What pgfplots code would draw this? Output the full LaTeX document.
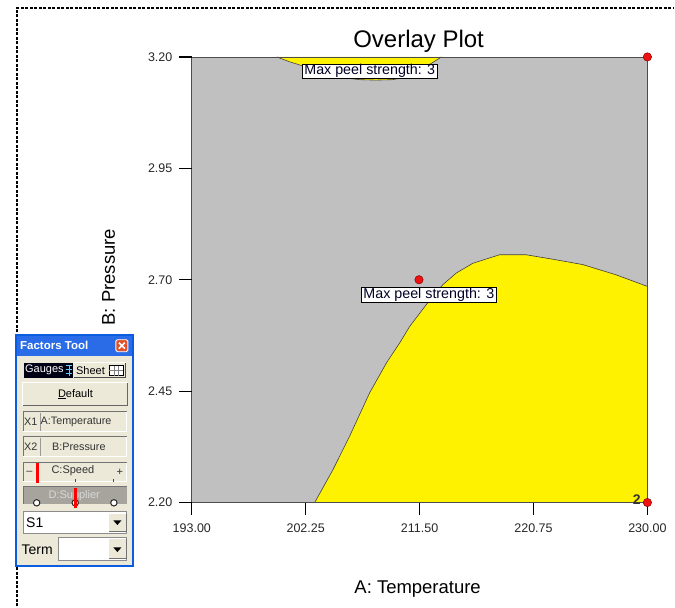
\documentclass[border=0pt]{standalone}
\usepackage{pgfplots}
\pgfplotsset{compat=1.18}
\usepackage{fontspec}
\setmainfont{Liberation Sans}
\definecolor{silv}{HTML}{C0C0C0}
\definecolor{xpbg}{HTML}{ECE9D8}
\definecolor{xpblue}{HTML}{0A5CE0}
\definecolor{xptitle}{HTML}{2A6CE8}
\definecolor{dotred}{HTML}{EE1111}
\definecolor{supgray}{HTML}{A6A49C}
\newcommand{\fs}[1]{\fontsize{#1bp}{1.2\dimexpr#1bp\relax}\selectfont}
\begin{document}
\begin{tikzpicture}
\begin{scope}[x=1bp,y=-1bp,shift={(-192bp,503bp)}]
\useasboundingbox (0,0) rectangle (675,607);
\end{scope}
\begin{axis}[
  at={(0,0)}, anchor=south west,
  width=456bp, height=446bp, scale only axis,
  xmin=193, xmax=230, ymin=2.2, ymax=3.2,
  axis lines*=left,
  xtick={193,202.25,211.5,220.75,230},
  ytick={2.2,2.45,2.7,2.95,3.2},
  tick align=outside,
  major tick length=12bp,
  every tick/.style={black, line width=1bp},
  axis line style={black!70, line width=0.8bp, -},
  clip=false,
  /pgf/number format/assume math mode=true,
  /pgf/number format/.cd, fixed, fixed zerofill, precision=2, 1000 sep={},
  /pgfplots/.cd,
  xticklabel style={font=\fs{12.5}, text=black!85, yshift=-6bp},
  yticklabel style={font=\fs{12.5}, text=black!85, xshift=-4bp},
]
\fill[silv] (rel axis cs:0,0) rectangle (rel axis cs:1,1);
% lower yellow region
\addplot[fill=yellow, draw=none] coordinates {
 (202.98,2.2) (204.47,2.274) (205.82,2.349) (207.44,2.446) (208.80,2.513)
 (209.88,2.558) (210.69,2.595) (212.04,2.644) (213.39,2.689) (214.48,2.715)
 (215.83,2.737) (217.99,2.756) (220.16,2.756) (222.32,2.746) (224.75,2.734)
 (227.46,2.711) (230,2.685) (230,2.2)} -- cycle;
\addplot[black!75, line width=0.6bp] coordinates {
 (202.98,2.2) (204.47,2.274) (205.82,2.349) (207.44,2.446) (208.80,2.513)
 (209.88,2.558) (210.69,2.595) (212.04,2.644) (213.39,2.689) (214.48,2.715)
 (215.83,2.737) (217.99,2.756) (220.16,2.756) (222.32,2.746) (224.75,2.734)
 (227.46,2.711) (230,2.685)};
% upper yellow region
\addplot[fill=yellow, draw=none] coordinates {
 (199.90,3.2) (200.95,3.189) (201.76,3.182) (202.98,3.170) (204.20,3.160)
 (205.41,3.153) (206.63,3.149) (207.93,3.148) (209.31,3.149) (210.28,3.154)
 (211.09,3.163) (211.90,3.177) (212.47,3.186) (213.29,3.2)} -- cycle;
\addplot[black!75, line width=0.6bp] coordinates {
 (199.90,3.2) (200.95,3.189) (201.76,3.182) (202.98,3.170) (204.20,3.160)
 (205.41,3.153) (206.63,3.149) (207.93,3.148) (209.31,3.149) (210.28,3.154)
 (211.09,3.163) (211.90,3.177) (212.47,3.186) (213.29,3.2)};
\draw[black!70, line width=0.8bp] (rel axis cs:0,0) rectangle (rel axis cs:1,1);
\end{axis}
\begin{scope}[x=1bp,y=-1bp,shift={(-192bp,503bp)}]
% tick marks (axis furniture) as thin filled bars
\foreach \tx in {192,306,420,534,648} {\fill[black] (\tx-0.6,503) rectangle (\tx+0.6,515.5);}
\foreach \ty in {57,168.5,280,391.5,503} {\fill[black] (179.5,\ty-0.6) rectangle (192,\ty+0.6);}
\end{scope}
\begin{axis}[
  at={(0,0)}, anchor=south west,
  width=456bp, height=446bp, scale only axis,
  xmin=193, xmax=230, ymin=2.2, ymax=3.2,
  hide axis, clip=false,
]
% design points
\addplot[only marks, mark=*, mark size=4.2bp, mark options={fill=dotred, draw=red!55!black, line width=0.5bp}]
 coordinates {(230,3.2) (211.45,2.70) (230,2.2)};
\node[draw=black, fill=white, inner xsep=2bp, inner ysep=0.8bp, font=\fs{14.3}, text=black!85!blue]
 at (axis cs:207.45,3.168) {Max peel strength: 3};
\node[draw=black, fill=white, inner xsep=2bp, inner ysep=0.8bp, font=\fs{14.3}, text=black!85!blue]
 at (axis cs:212.25,2.666) {Max peel strength: 3};
\node[anchor=east, font=\bfseries\fs{14}, text=black!80, inner sep=1bp] at (axis cs:229.55,2.207) {2};
\end{axis}
\begin{scope}[x=1bp,y=-1bp,shift={(-192bp,503bp)}]
% title and axis labels
\node[anchor=base, font=\fs{24}] at (419,48) {Overlay Plot};
\node[anchor=base, font=\fs{18.5}] at (418,594) {A: Temperature};
\node[anchor=base, rotate=90, font=\fs{18.5}] at (115,277.5) {B: Pressure};
% dashed frame
\draw[black, line width=1.3bp, dash pattern=on 3bp off 1.5bp] (17,607) -- (17,8) -- (675,8);
% Factors Tool window
\fill[xpbg] (16,335) rectangle (133,567);
\fill[xptitle] (16,335) rectangle (133,356);
\draw[xpblue, line width=2bp] (16,335) rectangle (133,567);
\node[anchor=west, text=white, font=\bfseries\fs{11.5}, inner sep=0] at (20,346) {Factors Tool};
\draw[white, line width=0.8bp, fill={rgb,255:red,225;green,80;blue,40}, rounded corners=1.5bp] (116,340) rectangle (128,352);
\draw[white, line width=1.6bp] (119,343) -- (125,349) (125,343) -- (119,349);
% Gauges / Sheet
\fill[black!92!blue] (24,363) rectangle (73,378);
\node[anchor=west, text=white, font=\fs{11}, inner sep=0] at (25,370.5) {Gauges};
\draw[cyan!60, line width=0.6bp] (66,366) -- (72,366) (66,370) -- (72,370) (66,374) -- (72,374) (69,365) -- (69,376);
\draw[white, line width=0.8bp] (74,363) -- (126,363);
\draw[black!70, line width=0.8bp] (126,363) -- (126,378) -- (74,378);
\node[anchor=west, text=black, font=\fs{11}, inner sep=0] at (76,370.5) {Sheet};
\draw[black, line width=0.6bp, fill=white] (109,366) rectangle (123,376);
\draw[black!50, line width=0.4bp] (109,371) -- (123,371) (114,366) -- (114,376) (118.5,366) -- (118.5,376);
% Default button
\draw[white, line width=1bp] (23,406) -- (23,383) -- (128,383);
\draw[black!60, line width=1bp] (128,383) -- (128,406) -- (23,406);
\node[font=\fs{11}, inner sep=0] at (75.5,394.5) {\underline{D}efault};
% X1 / X2
\draw[black!55, line width=0.8bp] (23,432) -- (23,412) -- (127,412);
\draw[white, line width=0.8bp] (127,412) -- (127,432) -- (23,432);
\draw[black!40, line width=0.8bp] (40.7,413) -- (40.7,431);
\node[anchor=west, font=\fs{10.8}, text=black!80, inner sep=0] at (24,422) {X1};
\node[anchor=west, font=\fs{10.8}, text=black!80, inner sep=0] at (40.5,422) {A:Temperature};
\draw[black!55, line width=0.8bp] (23,457) -- (23,437) -- (127,437);
\draw[white, line width=0.8bp] (127,437) -- (127,457) -- (23,457);
\draw[black!40, line width=0.8bp] (40.7,438) -- (40.7,456);
\node[anchor=west, font=\fs{10.8}, text=black!80, inner sep=0] at (24,447) {X2};
\node[anchor=west, font=\fs{10.8}, text=black!80, inner sep=0] at (52,447) {B:Pressure};
% C:Speed
\draw[black!55, line width=0.8bp] (23,482) -- (23,463) -- (127,463);
\draw[white, line width=0.8bp] (127,463) -- (127,482) -- (23,482);
\node[font=\fs{11}, text=black!80, inner sep=0] at (29.5,473) {--};
\node[font=\fs{11}, text=black!80, inner sep=0] at (120,472.5) {+};
\node[font=\fs{11}, text=black!80, inner sep=0] at (73,471.5) {C:Speed};
\draw[black!70, line width=0.6bp] (75.3,479.5) -- (75.3,482) (113.3,479.5) -- (113.3,482);
\fill[red] (36.2,463) rectangle (38.8,483);
% D:Supplier
\fill[supgray] (23,487) rectangle (127,504);
\draw[black!55, line width=0.8bp] (23,504) -- (23,487) -- (127,487);
\node[font=\fs{11}, text=black!15, inner sep=0] at (74.3,496.5) {D:Supplier};
\foreach \cx in {36.7,75.3,114} {\draw[black!85, line width=1bp, fill=white] (\cx,503.3) circle (3.2);}
\fill[red] (74,488) rectangle (77,508);
% S1 combo
\draw[black!45, line width=0.8bp, fill=white] (23,512) rectangle (127,534);
\node[anchor=west, font=\fs{14}, inner sep=0] at (26,523) {S1};
\fill[xpbg] (109,514) rectangle (126,532);
\draw[black!55, line width=0.6bp] (126,514) -- (126,532) -- (109,532);
\fill[black] (113.5,521) -- (121.5,521) -- (117.5,525.5) -- cycle;
% Term combo
\node[anchor=west, font=\fs{14}, inner sep=0] at (21.5,550) {Term};
\draw[black!45, line width=0.8bp, fill=white] (58,538) rectangle (127,561);
\fill[xpbg] (109,540) rectangle (126,559);
\draw[black!55, line width=0.6bp] (126,540) -- (126,559) -- (109,559);
\fill[black] (113.5,548) -- (121.5,548) -- (117.5,552.5) -- cycle;
\end{scope}
\end{tikzpicture}
\end{document}
